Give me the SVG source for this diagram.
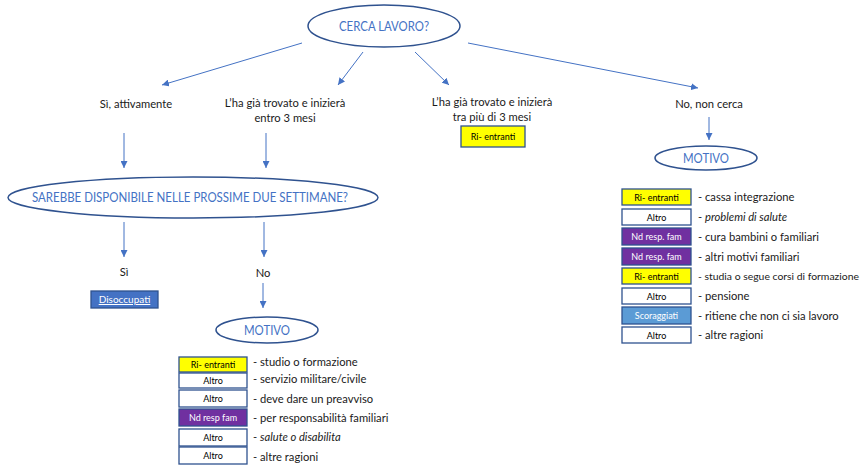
<svg xmlns="http://www.w3.org/2000/svg" width="867" height="466" viewBox="0 0 867 466">
<defs>
<marker id="ah" viewBox="0 0 10 10" refX="10" refY="5" markerWidth="7" markerHeight="7" markerUnits="userSpaceOnUse" orient="auto">
<path d="M0,0 L10,5 L0,10 z" fill="#4472C4"/>
</marker>
<style>
.t{font-family:Lato,"Liberation Sans",sans-serif;font-size:11.2px;fill:#1a1a1a}
.c{text-anchor:middle}
.ell{fill:#fff;stroke:#2F528F;stroke-width:1.5}
.et{font-family:Lato,"Liberation Sans",sans-serif;fill:#4472C4;text-anchor:middle}
.ln{stroke:#4472C4;stroke-width:1;fill:none;marker-end:url(#ah)}
.bx{stroke:#2F528F;stroke-width:1.3}
.bt{font-family:Lato,"Liberation Sans",sans-serif;font-size:9px;text-anchor:middle}
.y{fill:#FFFF00}.w{fill:#fff}.p{fill:#7030A0}.s{fill:#5B9BD5}.d{fill:#4472C4}
.k{fill:#000}.wt{fill:#fff}
</style>
</defs>
<rect width="867" height="466" fill="#fff"/>
<g id="connectors">
<line class="ln" x1="302" y1="43" x2="162" y2="85"/>
<line class="ln" x1="363" y1="52" x2="338" y2="85"/>
<line class="ln" x1="415" y1="52" x2="449" y2="85"/>
<line class="ln" x1="468" y1="43" x2="698" y2="88"/>
<line class="ln" x1="709" y1="117" x2="709" y2="140"/>
<line class="ln" x1="124" y1="133" x2="124" y2="168"/>
<line class="ln" x1="266" y1="133" x2="266" y2="168"/>
<line class="ln" x1="124" y1="222" x2="124" y2="257"/>
<line class="ln" x1="264" y1="222" x2="264" y2="257"/>
<line class="ln" x1="263" y1="283" x2="263" y2="308"/>
</g>
<g id="cerca">
<ellipse class="ell" cx="384" cy="26" rx="76" ry="21"/>
<text class="et" x="384" y="31" font-size="13.5" textLength="90" lengthAdjust="spacingAndGlyphs">CERCA LAVORO?</text>
</g>
<g id="si-attivamente"><text class="t c" x="136" y="108">Sì, attivamente</text></g>
<g id="entro3"><text class="t c" x="285" y="107">L’ha già trovato e inizierà</text><text class="t c" x="285" y="122">entro 3 mesi</text></g>
<g id="oltre3"><text class="t c" x="492" y="106">L’ha già trovato e inizierà</text><text class="t c" x="492" y="121">tra più di 3 mesi</text>
<rect class="bx y" x="461" y="126" width="64" height="21"/><text class="bt k" x="493" y="140">Ri- entranti</text></g>
<g id="no-cerca"><text class="t c" x="709" y="108">No, non cerca</text></g>
<g id="motivo-r">
<ellipse class="ell" cx="706" cy="158" rx="51" ry="12"/>
<text class="et" x="706" y="163" font-size="13.5" textLength="46" lengthAdjust="spacingAndGlyphs">MOTIVO</text>
</g>
<g id="list-r">
<rect class="bx y" x="622" y="189" width="69" height="16"/><text class="bt k" x="656.5" y="200.5">Ri- entranti</text><text class="t" x="698" y="201">- cassa integrazione</text>
<rect class="bx w" x="622" y="209" width="69" height="16"/><text class="bt k" x="656.5" y="220.5">Altro</text><text class="t" x="698" y="221">- <tspan font-style="italic">problemi di salute</tspan></text>
<rect class="bx p" x="622" y="228" width="69" height="17"/><text class="bt wt" x="656.5" y="240">Nd resp. fam</text><text class="t" x="698" y="241">- cura bambini o familiari</text>
<rect class="bx p" x="622" y="248" width="69" height="17"/><text class="bt wt" x="656.5" y="260">Nd resp. fam</text><text class="t" x="698" y="261">- altri motivi familiari</text>
<rect class="bx y" x="622" y="268" width="69" height="16"/><text class="bt k" x="656.5" y="279.5">Ri- entranti</text><text class="t" x="698" y="280" style="font-size:10.4px">- studia o segue corsi di formazione</text>
<rect class="bx w" x="622" y="288" width="69" height="16"/><text class="bt k" x="656.5" y="299.5">Altro</text><text class="t" x="698" y="300">- pensione</text>
<rect class="bx s" x="622" y="307" width="69" height="17"/><text class="bt wt" x="656.5" y="319">Scoraggiati</text><text class="t" x="698" y="320">- ritiene che non ci sia lavoro</text>
<rect class="bx w" x="622" y="327" width="69" height="16"/><text class="bt k" x="656.5" y="338.5">Altro</text><text class="t" x="698" y="339">- altre ragioni</text>
</g>
<g id="sarebbe">
<ellipse class="ell" cx="193" cy="197.5" rx="185" ry="20.5"/>
<text class="et" x="190" y="202" font-size="12.5" textLength="316" lengthAdjust="spacingAndGlyphs">SAREBBE DISPONIBILE NELLE PROSSIME DUE SETTIMANE?</text>
</g>
<g id="si"><text class="t c" x="124" y="276">Sì</text>
<rect class="bx d" x="91" y="291" width="67" height="17"/><text class="bt wt" x="124.5" y="303" style="font-size:10px" text-decoration="underline">Disoccupati</text></g>
<g id="no"><text class="t c" x="263" y="277">No</text></g>
<g id="motivo-b">
<ellipse class="ell" cx="267" cy="330" rx="51" ry="13"/>
<text class="et" x="267" y="335" font-size="13.5" textLength="46" lengthAdjust="spacingAndGlyphs">MOTIVO</text>
</g>
<g id="list-b">
<rect class="bx y" x="179" y="357" width="68" height="15"/><text class="bt k" x="213" y="368">Ri- entranti</text><text class="t" x="253" y="366">- studio o formazione</text>
<rect class="bx w" x="179" y="373" width="68" height="15"/><text class="bt k" x="213" y="384">Altro</text><text class="t" x="253" y="383">- servizio militare/civile</text>
<rect class="bx w" x="179" y="390" width="68" height="17"/><text class="bt k" x="213" y="402">Altro</text><text class="t" x="253" y="403">- deve dare un preavviso</text>
<rect class="bx p" x="179" y="409" width="68" height="17"/><text class="bt wt" x="213" y="421">Nd resp fam</text><text class="t" x="253" y="422">- per responsabilità familiari</text>
<rect class="bx w" x="179" y="429" width="68" height="17"/><text class="bt k" x="213" y="441">Altro</text><text class="t" x="253" y="441">- <tspan font-style="italic">salute o disabilita</tspan></text>
<rect class="bx w" x="179" y="447" width="68" height="17"/><text class="bt k" x="213" y="459">Altro</text><text class="t" x="253" y="461">- altre ragioni</text>
</g>
</svg>
